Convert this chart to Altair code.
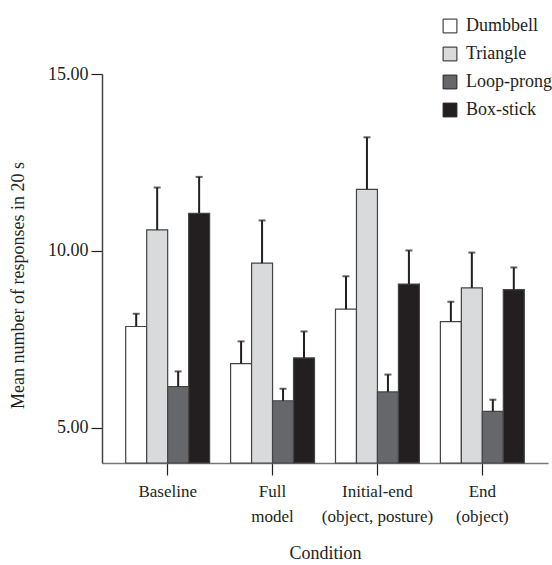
import altair as alt
import pandas as pd

conditions = ["Baseline", "Full|model", "Initial-end|(object, posture)", "End|(object)"]
shapes = ["Dumbbell", "Triangle", "Loop-prong", "Box-stick"]
fills = ["#ffffff", "#d9dadc", "#66676b", "#231f20"]

means = {
    "Dumbbell":   [7.86, 6.81, 8.35, 8.00],
    "Triangle":   [10.59, 9.65, 11.74, 8.95],
    "Loop-prong": [6.16, 5.76, 6.01, 5.46],
    "Box-stick":  [11.06, 6.97, 9.06, 8.90],
}
upper = {
    "Dumbbell":   [8.22, 7.44, 9.28, 8.56],
    "Triangle":   [11.79, 10.86, 13.21, 9.95],
    "Loop-prong": [6.59, 6.10, 6.50, 5.79],
    "Box-stick":  [12.09, 7.72, 10.01, 9.53],
}
axis_min = 4

rows = []
for s in shapes:
    for i, c in enumerate(conditions):
        rows.append({"cond": c, "shape": s, "mean": means[s][i], "up": upper[s][i]})
df = pd.DataFrame(rows)

FONT = "Liberation Serif"

x = alt.X("cond:N", sort=conditions, title="Condition",
          scale=alt.Scale(paddingInner=0.2, paddingOuter=0.226),
          axis=alt.Axis(labelExpr="split(datum.label, '|')", labelAngle=0,
                        labelFont=FONT, labelFontSize=17, labelLineHeight=25,
                        labelPadding=8, labelColor="#231f20",
                        tickSize=12, tickColor="#231f20", tickWidth=1.2,
                        domainColor="#777777", domainWidth=1.5,
                        titleFont=FONT, titleFontSize=18, titleFontWeight="normal",
                        titleColor="#231f20", titleY=90, titleBaseline="middle"))
xo = alt.XOffset("shape:N", sort=shapes, scale=alt.Scale(paddingInner=0, paddingOuter=0))
yscale = alt.Scale(domain=[axis_min, 15], nice=False, zero=False)

bars = alt.Chart(df).mark_bar(stroke="#444444", strokeWidth=1.2).encode(
    x=x,
    xOffset=xo,
    y=alt.Y("mean:Q", scale=yscale, title="Mean number of responses in 20 s",
            axis=alt.Axis(values=[5, 10, 15], format=".2f", grid=False,
                          labelFont=FONT, labelFontSize=18, labelPadding=3,
                          labelColor="#231f20",
                          tickSize=11, tickColor="#231f20", tickWidth=1.2,
                          domainColor="#444444", domainWidth=1.5,
                          titleFont=FONT, titleFontSize=18, titleFontWeight="normal",
                          titleColor="#231f20", titleX=-84, titleY=211,
                          titleAlign="center", titleBaseline="middle")),
    y2=alt.datum(axis_min),
    fill=alt.Fill("shape:N", sort=shapes, scale=alt.Scale(domain=shapes, range=fills),
                  legend=alt.Legend(title=None, orient="none", legendX=339, legendY=-57,
                                    symbolType="square", symbolSize=190,
                                    symbolStrokeColor="#231f20", symbolStrokeWidth=1,
                                    labelFont=FONT, labelFontSize=18, labelColor="#231f20",
                                    labelOffset=7, rowPadding=10, padding=0)),
)

rules = alt.Chart(df).mark_rule(color="#231f20", strokeWidth=2).encode(
    x=alt.X("cond:N", sort=conditions),
    xOffset=xo,
    y=alt.Y("up:Q", scale=yscale),
    y2="mean:Q",
)

caps = alt.Chart(df).mark_tick(color="#231f20", thickness=2, size=7).encode(
    x=alt.X("cond:N", sort=conditions),
    xOffset=xo,
    y=alt.Y("up:Q", scale=yscale),
)

chart = alt.layer(bars, rules, caps).properties(
    width=446, height=389,
    autosize=alt.AutoSizeParams(type="none"),
    padding={"left": 102, "top": 74, "right": 4, "bottom": 102},
    background="#ffffff",
).configure_view(stroke=None)

chart.save("out.html", embed_options={"renderer": "svg", "actions": False})
